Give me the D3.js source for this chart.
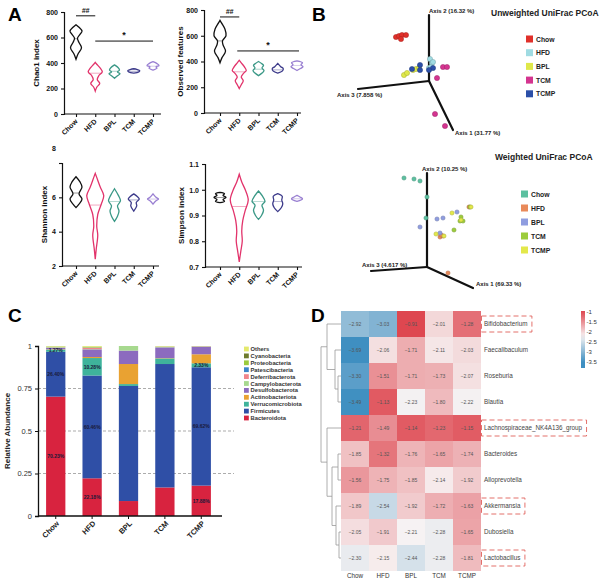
<!DOCTYPE html>
<html>
<head>
<meta charset="utf-8">
<script src="https://cdn.jsdelivr.net/npm/d3@7"></script>
<style>
body { margin: 0; background: #fff; }
text { font-family: "Liberation Sans", Arial, sans-serif; }
</style>
</head>
<body>
<div id="fig"></div>
<script>
// ---------- data ----------
var groups = ["Chow", "HFD", "BPL", "TCM", "TCMP"];
var violinColors = ["#111111", "#e2336b", "#3a9886", "#3c3a8a", "#9a80d2"];

// violin outlines, [value, density]
var chao1Violins = [
  [[430,0],[470,0.2],[520,0.55],[560,0.3],[595,0.15],[625,0.4],[650,0.6],[680,0.3],[700,0]],
  [[180,0],[210,0.15],[240,0.45],[270,0.2],[300,0.35],[330,0.7],[360,0.5],[390,0.15],[405,0]],
  [[280,0],[300,0.3],[315,0.55],[330,0.3],[345,0.5],[365,0.35],[385,0]],
  [[320,0],[330,0.5],[340,0.6],[350,0.3],[355,0]],
  [[345,0],[360,0.4],[370,0.3],[380,0.6],[395,0.4],[410,0]]
];
var chao1Medians = [590, 320, 335, 335, 375];
var chao1Ticks = [0, 200, 400, 600, 800];

var observedViolins = [
  [[390,0],[430,0.2],[480,0.55],[530,0.3],[560,0.25],[600,0.6],[650,0.5],[700,0.15],[720,0]],
  [[190,0],[220,0.2],[250,0.4],[280,0.2],[310,0.45],[330,0.7],[360,0.5],[390,0.2],[410,0]],
  [[290,0],[310,0.35],[330,0.55],[350,0.35],[370,0.5],[385,0.3],[400,0]],
  [[310,0],[325,0.45],[345,0.55],[360,0.3],[385,0]],
  [[330,0],[345,0.35],[360,0.6],[375,0.4],[390,0.55],[405,0]]
];
var observedMedians = [560, 320, 340, 335, 370];
var observedTicks = [0, 200, 400, 600, 800];

var shannonViolins = [
  [[5.4,0],[5.6,0.3],[5.9,0.6],[6.2,0.3],[6.6,0.6],[6.9,0.4],[7.2,0]],
  [[2.4,0],[3.0,0.1],[3.8,0.25],[4.3,0.15],[5.0,0.25],[5.6,0.6],[6.1,0.85],[6.6,0.5],[7.0,0.25],[7.4,0]],
  [[4.6,0],[4.9,0.3],[5.2,0.45],[5.5,0.3],[5.8,0.6],[6.1,0.4],[6.5,0]],
  [[5.2,0],[5.5,0.3],[5.7,0.25],[5.9,0.55],[6.05,0.35],[6.2,0]],
  [[5.6,0],[5.8,0.3],[5.9,0.55],[6.0,0.3],[6.2,0]]
];
var shannonMedians = [6.25, 5.55, 5.75, 5.85, 5.9];
var shannonTicks = [2, 4, 6, 8];

var simpsonViolins = [
  [[0.95,0],[0.955,0.45],[0.962,0.3],[0.97,0.6],[0.978,0.3],[0.985,0.45],[0.99,0]],
  [[0.72,0],[0.76,0.15],[0.8,0.3],[0.84,0.25],[0.88,0.35],[0.92,0.6],[0.96,0.9],[1.0,0.6],[1.03,0.25],[1.06,0]],
  [[0.885,0],[0.9,0.3],[0.92,0.5],[0.94,0.35],[0.955,0.65],[0.975,0.4],[0.995,0]],
  [[0.915,0],[0.93,0.35],[0.945,0.5],[0.96,0.4],[0.975,0.45],[0.985,0]],
  [[0.955,0],[0.96,0.4],[0.965,0.55],[0.972,0.3],[0.978,0]]
];
var simpsonMedians = [0.97, 0.935, 0.955, 0.955, 0.965];
var simpsonTicks = [0.7, 0.8, 0.9, 1.0, 1.1];

// PCoA projected scores [u, v]
var unwChow = [[-3.3,4.4],[-3.0,4.5],[-2.7,4.6],[-2.3,4.6],[-2.8,4.2]];
var unwHFD  = [[0.1,2.2],[0.3,1.8],[0,1.3],[0.2,1.4],[0.4,1.9]];
var unwBPL  = [[-2.5,0.6],[-2.2,0.8],[-1.6,1.1],[-1.3,1.2],[-1.0,1.3]];
var unwTCM  = [[1.4,1.4],[1.8,1.4],[0.8,0.3],[0.6,-3.3],[1.6,-4.5]];
var unwTCMP = [[-1.7,1.2],[-0.9,1.6],[-0.9,1.1],[0.4,1.3],[0,1.1]];
var unwAxisEnds = [[2.4,-4.9],[0,6.6],[-7.1,-0.8]];
var unwAxisLabels = ["Axis 1 (31.77 %)", "Axis 2 (16.32 %)", "Axis 3 (7.858 %)"];
var unwColors = ["#e0302a", "#a0dbe2", "#dfe84a", "#d4348f", "#2c4fa8"];

var wChow = [[-2.3,8.9],[-1.3,8.8],[-0.7,8.6],[0,7.0],[-0.1,4.9]];
var wHFD  = [[1.3,3.0],[1.6,3.1],[2.1,-0.6],[4.2,6.0],[1.4,3.2]];
var wBPL  = [[-0.7,4.0],[1.0,4.8],[1.6,4.9],[3.0,5.5],[1.3,3.4]];
var wTCM  = [[3.4,5.0],[3.6,4.6],[2.7,3.7],[4.3,6.0],[3.3,4.6]];
var wTCMP = [[2.5,5.4],[0.9,3.3],[1.7,3.1],[3.4,4.7],[4.4,6.0]];
var wAxisEnds = [[4.6,-2.1],[0,9.4],[-5.6,-0.4]];
var wAxisLabels = ["Axis 1 (69.33 %)", "Axis 2 (10.25 %)", "Axis 3 (4.617 %)"];
var wColors = ["#5cc0a0", "#e98a5a", "#8f9de0", "#9ccc3c", "#e3e84a"];

// relative abundance by phylum (bottom to top)
var phyla = ["Bacteroidota", "Firmicutes", "Verrucomicrobiota", "Actinobacteriota", "Desulfobacterota",
  "Campylobacterota", "Deferribacterota", "Patescibacteria", "Proteobacteria", "Cyanobacteria", "Others"];
var bacteroidota      = [0.7023, 0.2218, 0.088, 0.168, 0.1788];
var firmicutes        = [0.2640, 0.6046, 0.677, 0.726, 0.6962];
var verrucomicrobiota = [0.0127, 0.1028, 0.011, 0.033, 0.0233];
var actinobacteriota  = [0.002, 0.006, 0.118, 0.002, 0.053];
var desulfobacterota  = [0.008, 0.045, 0.079, 0.063, 0.044];
var campylobacterota  = [0.004, 0.0018, 0.027, 0.002, 0.001];
var deferribacterota  = [0.001, 0.008, 0, 0.001, 0.0017];
var patescibacteria   = [0.001, 0.001, 0, 0.001, 0.0005];
var proteobacteria    = [0.002, 0.005, 0, 0.001, 0.001];
var cyanobacteria     = [0, 0, 0, 0, 0];
var others            = [0.003, 0.004, 0, 0.003, 0.0005];
var phylumColors = ["#d8233f", "#2f4fa6", "#3fb39b", "#e9a232", "#8c6bbf",
  "#a7d98f", "#f0868b", "#3b86c9", "#9acb3c", "#6e7b2c", "#e4e96c"];
var abundanceTicks = [0, 0.25, 0.5, 0.75, 1];
var labelledPhyla = [["Chow", "Bacteroidota"], ["Chow", "Firmicutes"], ["Chow", "Verrucomicrobiota"],
  ["HFD", "Bacteroidota"], ["HFD", "Firmicutes"], ["HFD", "Verrucomicrobiota"],
  ["TCMP", "Bacteroidota"], ["TCMP", "Firmicutes"], ["TCMP", "Verrucomicrobiota"]];

// heatmap (log abundance)
var genera = ["Bifidobacterium", "Faecalibaculum", "Roseburia", "Blautia", "Lachnospiraceae_NK4A136_group",
  "Bacteroides", "Alloprevotella", "Akkermansia", "Dubosiella", "Lactobacillus"];
var bifidobacterium = [-2.92, -3.03, -0.91, -2.01, -1.28];
var faecalibaculum  = [-3.69, -2.06, -1.71, -2.11, -2.03];
var roseburia       = [-3.30, -1.51, -1.71, -1.73, -2.07];
var blautia         = [-3.49, -1.13, -2.23, -1.80, -2.22];
var lachnoNK4A136   = [-1.21, -1.49, -1.14, -1.23, -1.15];
var bacteroides     = [-1.85, -1.32, -1.76, -1.65, -1.74];
var alloprevotella  = [-1.56, -1.75, -1.85, -2.14, -1.92];
var akkermansia     = [-1.89, -2.54, -1.92, -1.72, -1.63];
var dubosiella      = [-2.05, -1.91, -2.21, -2.28, -1.65];
var lactobacillus   = [-2.30, -2.15, -2.44, -2.28, -1.81];
var boxedGenera = ["Bifidobacterium", "Lachnospiraceae_NK4A136_group", "Akkermansia", "Lactobacillus"];
var colorbarTicks = [-1, -1.5, -2, -2.5, -3, -3.5];
// row clustering: [children] or leaf index, with merge height
var rowTree = {h: 1.4, children: [
  {h: 0.98, children: [{leaf: 0}, {h: 0.42, children: [{leaf: 1}, {h: 0.21, children: [{leaf: 2}, {leaf: 3}]}]}]},
  {h: 0.98, children: [{leaf: 4}, {h: 0.63, children: [
    {h: 0.21, children: [{leaf: 5}, {leaf: 6}]},
    {h: 0.35, children: [{leaf: 7}, {h: 0.14, children: [{leaf: 8}, {leaf: 9}]}]}]}]}
]};

// ---------- drawing ----------
var svg = d3.select("#fig").append("svg")
  .attr("width", 600)
  .attr("height", 580);

function panelLetter(txt, x, y) {
  svg.append("text").attr("x", x).attr("y", y)
    .attr("font-size", 19).attr("font-weight", "bold").text(txt);
}

function drawViolinPlot(cfg) {
  var g = svg.append("g");
  var y = d3.scaleLinear().domain(cfg.domain).range([cfg.bottom, cfg.top]);
  var x = d3.scalePoint().domain(groups).range([cfg.left + cfg.pad, cfg.left + cfg.pad + 77]);
  var w = d3.scaleLinear().domain([0, 1]).range([0, 10]);

  // axes
  var yAxis = d3.axisLeft(y).tickValues(cfg.ticks).tickSize(3).tickFormat(cfg.fmt);
  var ya = g.append("g").attr("transform", `translate(${cfg.left},0)`).call(yAxis);
  var xAxis = d3.axisBottom(x).tickSize(3).tickFormat("");
  var xa = g.append("g").attr("transform", `translate(0,${cfg.bottom})`).call(xAxis);
  xa.select(".domain").attr("d", `M${cfg.left},0H${cfg.left + 97}`);
  [ya, xa].forEach(function(a) {
    a.select(".domain").attr("stroke", "#111").attr("stroke-width", 1.2);
    a.selectAll(".tick line").attr("stroke", "#111").attr("stroke-width", 1.1);
  });
  ya.selectAll(".tick text").attr("font-size", 7).attr("font-weight", "bold").attr("fill", "#111");
  if (cfg.topShift) {
    ya.selectAll(".tick text").filter(d => d === cfg.domain[1]).attr("dy", cfg.topShift);
  }

  g.selectAll(".xl").data(groups).enter().append("text")
    .attr("transform", d => `translate(${x(d) + 2},${cfg.bottom + 8}) rotate(-45)`)
    .attr("text-anchor", "end").attr("font-size", 7).attr("font-weight", "bold").attr("fill", "#111")
    .text(d => d);

  g.append("text")
    .attr("transform", `translate(${cfg.titleX},${(cfg.top + cfg.bottom) / 2}) rotate(-90)`)
    .attr("text-anchor", "middle").attr("font-size", 8).attr("font-weight", "bold").attr("fill", "#111")
    .text(cfg.label);

  // violins
  cfg.violins.forEach(function(v, i) {
    var cx = x(groups[i]);
    var area = d3.area()
      .y(d => y(d[0]))
      .x0(d => cx - w(d[1]))
      .x1(d => cx + w(d[1]))
      .curve(d3.curveCatmullRom);
    g.append("path").attr("d", area(v))
      .attr("fill", "none").attr("stroke", violinColors[i]).attr("stroke-width", 1.3);
    var dens = d3.scaleLinear().domain(v.map(d => d[0])).range(v.map(d => d[1]));
    var m = cfg.medians[i];
    g.append("line")
      .attr("x1", cx - w(dens(m))).attr("x2", cx + w(dens(m)))
      .attr("y1", y(m)).attr("y2", y(m))
      .attr("stroke", violinColors[i]).attr("stroke-width", 0.6).attr("opacity", 0.7);
  });

  // significance marks
  (cfg.marks || []).forEach(function(mk) {
    g.append("line")
      .attr("x1", x(mk.from) - (mk.ext || 0)).attr("x2", x(mk.to) + (mk.ext || 0))
      .attr("y1", y(mk.at)).attr("y2", y(mk.at))
      .attr("stroke", "#111").attr("stroke-width", 1);
    g.append("text")
      .attr("x", (x(mk.from) + x(mk.to)) / 2).attr("y", y(mk.at) - 3)
      .attr("text-anchor", "middle").attr("font-size", mk.size).attr("font-weight", "bold")
      .attr("font-style", mk.italic ? "italic" : "normal").attr("fill", "#111")
      .text(mk.text);
  });
}

function drawPcoa(cfg) {
  var g = svg.append("g");
  var x = d3.scaleLinear().domain([-10, 10]).range([cfg.ox - 100, cfg.ox + 100]);
  var y = d3.scaleLinear().domain([-10, 10]).range([cfg.oy + 100, cfg.oy - 100]);

  cfg.axisEnds.forEach(function(e, i) {
    g.append("line")
      .attr("x1", x(0)).attr("y1", y(0)).attr("x2", x(e[0])).attr("y2", y(e[1]))
      .attr("stroke", "#111").attr("stroke-width", 2.2).attr("stroke-linecap", "round");
    g.append("text")
      .attr("x", x(e[0]) + cfg.labelOff[i][0]).attr("y", y(e[1]) + cfg.labelOff[i][1])
      .attr("font-size", 6).attr("font-weight", "bold").attr("fill", "#222")
      .text(cfg.axisLabels[i]);
  });

  cfg.sets.forEach(function(pts, i) {
    g.selectAll(null).data(pts).enter().append("circle")
      .attr("cx", d => x(d[0])).attr("cy", d => y(d[1]))
      .attr("r", cfg.r)
      .attr("fill", cfg.colors[i])
      .attr("stroke", d3.color(cfg.colors[i]).darker(0.8))
      .attr("stroke-width", 0.5);
  });

  g.append("text").attr("x", cfg.titleX).attr("y", cfg.titleY)
    .attr("font-size", 8.5).attr("font-weight", "bold").attr("fill", "#222").text(cfg.title);

  var leg = g.selectAll(".leg").data(groups).enter().append("g")
    .attr("transform", (d, i) => `translate(${cfg.legX},${cfg.legY + i * cfg.legStep})`);
  leg.append("rect").attr("x", 0).attr("y", -3.5).attr("width", 7).attr("height", 7)
    .attr("fill", (d, i) => cfg.colors[i]);
  leg.append("text").attr("x", 10).attr("y", 2.5)
    .attr("font-size", 6.8).attr("font-weight", "bold").attr("fill", "#222").text(d => d);
}

function drawStacked() {
  var g = svg.append("g");
  var series = [bacteroidota, firmicutes, verrucomicrobiota, actinobacteriota, desulfobacterota,
    campylobacterota, deferribacterota, patescibacteria, proteobacteria, cyanobacteria, others];
  var table = groups.map(function(gr, i) {
    var row = {group: gr};
    phyla.forEach(function(p, k) { row[p] = series[k][i]; });
    return row;
  });
  var stacked = d3.stack().keys(phyla)(table);

  var x = d3.scaleBand().domain(groups).range([37, 220]).paddingInner(0.47).paddingOuter(0.25);
  var y = d3.scaleLinear().domain([0, 1]).range([516, 346]);
  var color = d3.scaleOrdinal().domain(phyla).range(phylumColors);

  // dashed grid
  g.selectAll(".grid").data([0.25, 0.5, 0.75]).enter().append("line")
    .attr("x1", 38).attr("x2", 234).attr("y1", d => y(d)).attr("y2", d => y(d))
    .attr("stroke", "#888").attr("stroke-width", 0.7).attr("stroke-dasharray", "3,2");

  g.selectAll(".layer").data(stacked).enter().append("g")
    .attr("fill", d => color(d.key))
    .selectAll("rect").data(d => d).enter().append("rect")
    .attr("x", d => x(d.data.group))
    .attr("width", x.bandwidth())
    .attr("y", d => y(d[1]))
    .attr("height", d => y(d[0]) - y(d[1]));

  // percentage labels
  labelledPhyla.forEach(function(lp) {
    var layer = stacked[phyla.indexOf(lp[1])];
    var seg = layer[groups.indexOf(lp[0])];
    g.append("text")
      .attr("x", x(lp[0]) + x.bandwidth() / 2).attr("y", y((seg[0] + seg[1]) / 2) + 1.8)
      .attr("text-anchor", "middle").attr("font-size", 5).attr("font-weight", "bold").attr("fill", "#1a1a3a")
      .text(d3.format(".2%")(seg[1] - seg[0]));
  });

  var yAxis = d3.axisLeft(y).tickValues(abundanceTicks).tickSize(3).tickFormat(d3.format("~g"));
  var ya = g.append("g").attr("transform", "translate(38,0)").call(yAxis);
  ya.selectAll(".tick text").attr("font-size", 7.5).attr("fill", "#333");
  var xa = g.append("g").attr("transform", "translate(0,516)")
    .call(d3.axisBottom(x).tickSize(3).tickFormat(""));
  xa.select(".domain").attr("d", "M38,0H222");
  [ya, xa].forEach(function(a) {
    a.select(".domain").attr("stroke", "#111").attr("stroke-width", 1.3);
    a.selectAll(".tick line").attr("stroke", "#111");
  });

  g.selectAll(".xl").data(groups).enter().append("text")
    .attr("transform", d => `translate(${x(d) + x.bandwidth() / 2 + 4},${524}) rotate(-45)`)
    .attr("text-anchor", "end").attr("font-size", 7.5).attr("font-weight", "bold").attr("fill", "#222")
    .text(d => d);

  g.append("text").attr("transform", "translate(10,431) rotate(-90)")
    .attr("text-anchor", "middle").attr("font-size", 8).attr("font-weight", "bold").attr("fill", "#222")
    .text("Relative Abundance");

  var legendOrder = phyla.slice().reverse();
  var leg = g.selectAll(".leg").data(legendOrder).enter().append("g")
    .attr("transform", (d, i) => `translate(244,${349 + i * 6.9})`);
  leg.append("rect").attr("x", 0).attr("y", -2.4).attr("width", 4.8).attr("height", 4.8)
    .attr("fill", d => color(d));
  leg.append("text").attr("x", 6.5).attr("y", 2)
    .attr("font-size", 5.8).attr("font-weight", "bold").attr("fill", "#333").text(d => d);
}

function drawHeatmap() {
  var g = svg.append("g");
  var rows = [bifidobacterium, faecalibaculum, roseburia, blautia, lachnoNK4A136,
    bacteroides, alloprevotella, akkermansia, dubosiella, lactobacillus];
  var cells = [];
  rows.forEach(function(r, i) {
    r.forEach(function(v, j) { cells.push({genus: genera[i], group: groups[j], value: v}); });
  });

  var x = d3.scaleBand().domain(groups).range([341, 481]);
  var y = d3.scaleBand().domain(genera).range([311, 571]);
  var color = d3.scaleLinear().domain([-3.5, -2.2, -1])
    .range(["#3f8fc1", "#f7f3f3", "#de4750"]).clamp(true);

  g.selectAll(".cell").data(cells).enter().append("rect")
    .attr("x", d => x(d.group)).attr("y", d => y(d.genus))
    .attr("width", x.bandwidth()).attr("height", y.bandwidth())
    .attr("fill", d => color(d.value));
  g.selectAll(".val").data(cells).enter().append("text")
    .attr("x", d => x(d.group) + x.bandwidth() / 2).attr("y", d => y(d.genus) + y.bandwidth() / 2 + 1.8)
    .attr("text-anchor", "middle").attr("font-size", 5).attr("fill", "#555")
    .text(d => d3.format(".2f")(d.value));

  g.selectAll(".col").data(groups).enter().append("text")
    .attr("x", d => x(d) + x.bandwidth() / 2).attr("y", 578)
    .attr("text-anchor", "middle").attr("font-size", 6.3).attr("fill", "#333").text(d => d);

  var labels = g.selectAll(".row").data(genera).enter().append("text")
    .attr("x", 484).attr("y", d => y(d) + y.bandwidth() / 2 + 2.2)
    .attr("font-size", 6.3).attr("fill", "#444").text(d => d);
  labels.filter(d => boxedGenera.indexOf(d) >= 0).each(function(d) {
    var len = this.getComputedTextLength();
    g.append("rect")
      .attr("x", 481.5).attr("y", y(d) + y.bandwidth() / 2 - 8)
      .attr("width", len + 7).attr("height", 16)
      .attr("fill", "none").attr("stroke", "#e0605a").attr("stroke-width", 0.9)
      .attr("stroke-dasharray", "5,3");
  });

  // dendrogram
  var root = d3.hierarchy(rowTree);
  var hx = d3.scaleLinear().domain([0, 1.4]).range([341, 321]);
  root.eachAfter(function(n) {
    if (n.data.leaf !== undefined) {
      n.py = y(genera[n.data.leaf]) + y.bandwidth() / 2;
      n.px = hx(0);
    } else {
      n.py = d3.mean(n.children, c => c.py);
      n.px = hx(n.data.h);
    }
  });
  root.descendants().forEach(function(n) {
    if (!n.children) return;
    var ys = n.children.map(c => c.py);
    g.append("line").attr("x1", n.px).attr("x2", n.px)
      .attr("y1", d3.min(ys)).attr("y2", d3.max(ys))
      .attr("stroke", "#999").attr("stroke-width", 0.8);
    n.children.forEach(function(c) {
      g.append("line").attr("x1", n.px).attr("x2", c.px)
        .attr("y1", c.py).attr("y2", c.py)
        .attr("stroke", "#999").attr("stroke-width", 0.8);
    });
  });

  // colour bar
  var cb = d3.scaleLinear().domain([-1, -3.5]).range([312, 362]);
  var grad = svg.append("defs").append("linearGradient").attr("id", "cbar")
    .attr("x1", 0).attr("x2", 0).attr("y1", 0).attr("y2", 1);
  d3.range(0, 1.01, 0.1).forEach(function(t) {
    var v = cb.invert(311 + t * 57);
    grad.append("stop").attr("offset", t).attr("stop-color", color(v));
  });
  g.append("rect").attr("x", 581).attr("y", 311).attr("width", 4).attr("height", 57)
    .attr("fill", "url(#cbar)");
  g.selectAll(".cbt").data(colorbarTicks).enter().append("text")
    .attr("x", 586.5).attr("y", d => cb(d) + 2)
    .attr("font-size", 6).attr("fill", "#333").text(d => d);
}

// ---------- panel A ----------
panelLetter("A", 8, 21);
drawViolinPlot({violins: chao1Violins, medians: chao1Medians, ticks: chao1Ticks, domain: [0, 800],
  left: 64, pad: 12, top: 12, bottom: 114, titleX: 39, label: "Chao1 index", fmt: d3.format("d"),
  marks: [{from: "Chow", to: "HFD", at: 770, text: "##", size: 7, italic: true},
          {from: "HFD", to: "TCMP", at: 572, text: "*", size: 9}]});
drawViolinPlot({violins: observedViolins, medians: observedMedians, ticks: observedTicks, domain: [0, 800],
  left: 204, pad: 16, top: 10, bottom: 113, titleX: 183, label: "Observed features", fmt: d3.format("d"),
  marks: [{from: "Chow", to: "HFD", at: 746, text: "##", size: 7, italic: true},
          {from: "HFD", to: "TCMP", at: 482, text: "*", size: 9, ext: 2}]});
drawViolinPlot({violins: shannonViolins, medians: shannonMedians, ticks: shannonTicks, domain: [2, 8],
  left: 62, pad: 14, top: 163, bottom: 266, titleX: 47, label: "Shannon index", fmt: d3.format("d"),
  topShift: -13});
drawViolinPlot({violins: simpsonViolins, medians: simpsonMedians, ticks: simpsonTicks, domain: [0.7, 1.1],
  left: 205, pad: 15, top: 164, bottom: 267, titleX: 184, label: "Simpson index", fmt: d3.format(".1f")});

// ---------- panel B ----------
panelLetter("B", 312, 21);
drawPcoa({ox: 429, oy: 81, axisEnds: unwAxisEnds, axisLabels: unwAxisLabels,
  labelOff: [[2, 4.5], [0, -2], [-21, 7.5]],
  sets: [unwChow, unwHFD, unwBPL, unwTCM, unwTCMP], colors: unwColors, r: 2.6,
  title: "Unweighted UniFrac PCoA", titleX: 491, titleY: 16,
  legX: 526, legY: 39, legStep: 13.7});
drawPcoa({ox: 427, oy: 267, axisEnds: wAxisEnds, axisLabels: wAxisLabels,
  labelOff: [[3, -2], [-5, -2], [-9, -4]],
  sets: [wChow, wHFD, wBPL, wTCM, wTCMP], colors: wColors, r: 2.1,
  title: "Weighted UniFrac PCoA", titleX: 495, titleY: 160,
  legX: 521, legY: 194, legStep: 14});

// ---------- panel C ----------
panelLetter("C", 8, 322);
drawStacked();

// ---------- panel D ----------
panelLetter("D", 311, 322);
drawHeatmap();
</script>
</body>
</html>
